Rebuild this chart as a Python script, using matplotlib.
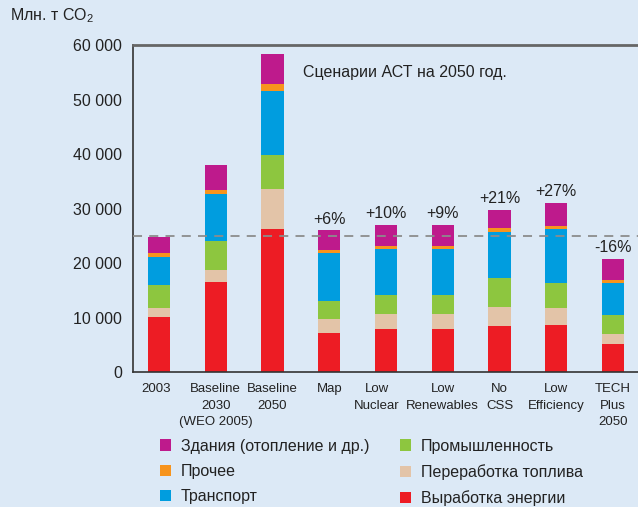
import matplotlib.pyplot as plt
import matplotlib.transforms as mtransforms
from matplotlib.patches import Patch

plt.rcParams['font.family'] = ['Liberation Sans', 'DejaVu Sans']
plt.rcParams['mathtext.fontset'] = 'custom'
plt.rcParams['mathtext.rm'] = 'Liberation Sans'

# Scenario names and CO2 emissions by sector, Mt CO2
scenarios = ['2003', 'Baseline\n2030\n(WEO 2005)', 'Baseline\n2050', 'Map',
             'Low\nNuclear', 'Low\nRenewables', 'No\nCSS', 'Low\nEfficiency',
             'TECH\nPlus\n2050']
power = [10100, 16500, 26200, 7150, 7900, 7900, 8450, 8600, 5150]
fuel_transf = [1700, 2200, 7350, 2550, 2750, 2750, 3500, 3150, 1800]
industry = [4150, 5300, 6250, 3300, 3500, 3500, 5300, 4600, 3500]
transport = [5150, 8700, 11750, 8800, 8450, 8450, 8450, 9900, 5850]
other = [750, 700, 1300, 550, 550, 550, 700, 550, 550]
buildings = [2950, 4600, 5500, 3650, 3850, 3850, 3300, 4200, 3850]
changes = ['', '', '', '+6%', '+10%', '+9%', '+21%', '+27%', '-16%']
level_2003 = 25000

bg = '#dce9f6'
fig = plt.figure(figsize=(6.38, 5.07), dpi=100, facecolor=bg)
ax = fig.add_axes([0.2085, 0.2663, 0.7915, 0.6447], facecolor=bg)

x = list(range(len(scenarios)))
layers = [
    (power, '#ed1c24', 'Выработка энергии'),
    (fuel_transf, '#e3c4a8', 'Переработка топлива'),
    (industry, '#8dc63f', 'Промышленность'),
    (transport, '#009ddf', 'Транспорт'),
    (other, '#f7941d', 'Прочее'),
    (buildings, '#be1a8c', 'Здания (отопление и др.)'),
]
bottom = [0] * len(x)
for vals, color, name in layers:
    ax.bar(x, vals, 0.39, bottom=bottom, color=color, zorder=2)
    bottom = [b + v for b, v in zip(bottom, vals)]

for xi, top, txt in zip(x, bottom, changes):
    if txt:
        ax.text(xi, top + 700, txt, ha='center', va='bottom', fontsize=11.5,
                color='#222222')

ax.axhline(level_2003, color='#8c8c8c', lw=1.3, ls=(0, (5, 4)), zorder=3)

ax.set_xlim(-0.458, 8.44)
ax.set_ylim(0, 60000)
ax.set_yticks(range(0, 60001, 10000))
ax.set_yticklabels(['0', '10 000', '20 000', '30 000', '40 000', '50 000', '60 000'],
                   fontsize=11.5, color='#222222')
ax.set_xticks(x)
ax.set_xticklabels(scenarios, fontsize=9.5, color='#222222', linespacing=1.5)
ax.tick_params(length=0, pad=8)
ax.tick_params(axis='x', pad=8)

# nudge labels that sit off-centre under their bars
shifts = {0: -3, 4: -9}
for i, lab in enumerate(ax.get_xticklabels()):
    if i in shifts:
        off = mtransforms.ScaledTranslation(shifts[i] / 100, 0, fig.dpi_scale_trans)
        lab.set_transform(lab.get_transform() + off)

ax.spines['right'].set_visible(False)
ax.spines['top'].set_color('#666666')
ax.spines['top'].set_linewidth(2)
ax.spines['left'].set_color('#333333')
ax.spines['bottom'].set_color('#333333')
ax.spines['left'].set_linewidth(1.2)
ax.spines['bottom'].set_linewidth(1.2)

ax.text(2.53, 55000, 'Сценарии АСТ на 2050 год.', fontsize=11.5,
        color='#222222', va='center')
fig.text(0.016, 0.969, 'Млн. т CO$_2$', fontsize=11.5, color='#222222',
         va='center')

order = [5, 4, 3, 2, 1, 0]
handles = [Patch(facecolor=layers[i][1], label=layers[i][2]) for i in order]
fig.legend(handles=handles, ncol=2, loc='upper left',
           bbox_to_anchor=(0.251, 0.135), frameon=False, fontsize=11.5,
           handlelength=0.7, handleheight=0.7, handletextpad=0.6,
           columnspacing=1.9, labelspacing=0.65, borderaxespad=0,
           borderpad=0, labelcolor='#222222')

fig.savefig('out.png', dpi=100, facecolor=bg)
